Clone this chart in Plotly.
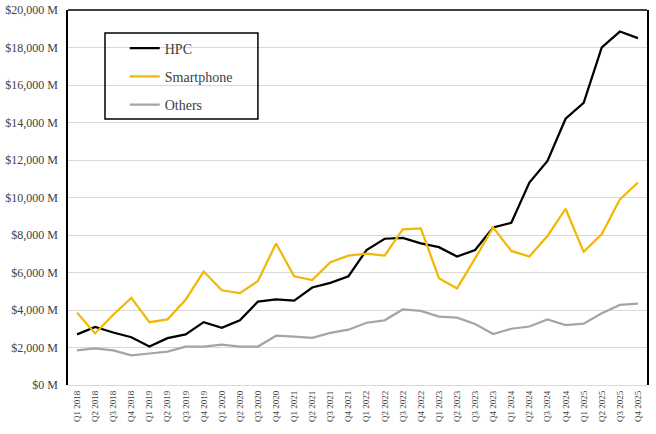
import plotly.graph_objects as go

quarters = [f"Q{q} {y}" for y in range(2018, 2026) for q in range(1, 5)]

hpc = [2700, 3100, 2800, 2550, 2050, 2500, 2700, 3350, 3050, 3450, 4450, 4570,
       4500, 5200, 5450, 5800, 7200, 7800, 7850, 7550, 7350, 6850, 7200, 8400,
       8650, 10800, 11950, 14200, 15050, 18000, 18850, 18500]
smartphone = [3850, 2750, 3750, 4650, 3350, 3500, 4550, 6050, 5050, 4900, 5550, 7550,
              5800, 5600, 6550, 6900, 7000, 6900, 8300, 8350, 5700, 5150, 6750, 8400,
              7150, 6850, 7950, 9400, 7100, 8050, 9900, 10800]
others = [1850, 1950, 1850, 1580, 1680, 1780, 2050, 2050, 2150, 2050, 2050, 2630,
          2580, 2520, 2780, 2950, 3320, 3450, 4030, 3950, 3650, 3590, 3250, 2720,
          3000, 3120, 3500, 3200, 3270, 3830, 4270, 4340]

series = [("HPC", hpc, "#000000"), ("Smartphone", smartphone, "#F2B807"), ("Others", others, "#A5A5A5")]

y_ticks = list(range(0, 20001, 2000))
y_labels = [f"${v:,} M" for v in y_ticks]

fig = go.Figure()
for i, (name, vals, color) in enumerate(series):
    fig.add_trace(go.Scatter(x=quarters, y=vals, name=name, mode="lines",
                             line=dict(color=color, width=2.25), legendgroup=f"g{i}"))

fig.update_layout(
    width=656, height=434,
    margin=dict(l=68, r=9, t=10, b=49, autoexpand=False),
    paper_bgcolor="white", plot_bgcolor="white",
    font=dict(family="Liberation Serif", color="#404040"),
    showlegend=True,
    legend=dict(x=0.098, y=0.94, xanchor="left", yanchor="top",
                bgcolor="rgba(0,0,0,0)", borderwidth=0, itemwidth=30,
                font=dict(size=14, family="Liberation Serif", color="#404040"),
                traceorder="grouped", tracegroupgap=7),
    xaxis=dict(type="category", tickangle=-90, automargin=False, ticklabelstandoff=3,
               tickfont=dict(size=9, family="Liberation Serif", color="#404040"),
               showgrid=False, showline=False, ticks="", range=[-0.5, 31.5]),
    yaxis=dict(range=[0, 20000], tickvals=y_ticks, ticktext=y_labels, automargin=False,
               ticklabelstandoff=6,
               tickfont=dict(size=12, family="Liberation Serif", color="#404040"),
               showgrid=True, gridcolor="#D9D9D9", gridwidth=1,
               showline=True, linecolor="black", linewidth=1.5, mirror=True,
               zeroline=True, zerolinecolor="#D9D9D9", zerolinewidth=1, ticks=""),
    shapes=[
        dict(type="line", xref="paper", yref="paper", x0=0, x1=1, y0=1, y1=1,
             line=dict(color="black", width=1.5)),
        dict(type="rect", xref="paper", yref="paper", x0=0.0639, x1=0.328, y0=0.7093, y1=0.9387,
             line=dict(color="black", width=1.5), fillcolor="rgba(0,0,0,0)"),
    ],
)

fig.write_html("out.html", config={"displayModeBar": False},
               post_script="document.body.style.margin='0';")
